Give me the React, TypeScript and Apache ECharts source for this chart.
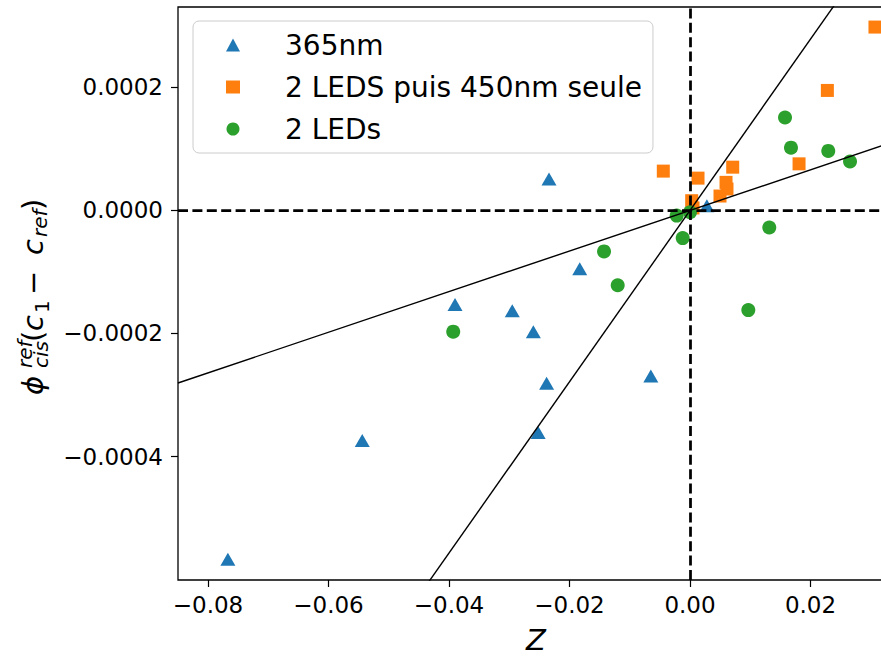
import React, { useEffect, useRef } from "react";
import * as echarts from "echarts";

const FONT = "DejaVu Sans";

// 365nm (triangles)
const tri_x = [-0.0767, -0.0544, -0.039, -0.0295, -0.026, -0.0183, -0.0234, -0.0238, -0.0252, -0.0065, 0.0028];
const tri_y = [-0.000567, -0.000374, -0.000153, -0.000163, -0.000197, -0.0000946, 0.0000509, -0.000281, -0.000361, -0.000269, 0.0000075];

// 2 LEDS puis 450nm seule (squares)
const sq_x = [0.0307, 0.0228, 0.0181, -0.00443, 0.00133, 0.00709, 0.00598, 0.00614, 0.00498, 0.00028, 0.0005];
const sq_y = [0.000298, 0.000195, 0.0000757, 0.0000639, 0.0000525, 0.0000703, 0.0000456, 0.0000348, 0.0000234, 0.0000158, 0.000004];

// 2 LEDs (circles)
const ci_x = [0.01577, 0.01676, 0.02295, 0.02656, 0.01316, 0.00968, -0.00221, -0.00121, 0.0, -0.01427, -0.012, -0.0393];
const ci_y = [0.000151, 0.000102, 0.0000967, 0.0000795, -0.0000278, -0.000162, -0.0000084, -0.000045, -0.000003, -0.0000666, -0.0001216, -0.000197];

const seriesNames = ["365nm", "2 LEDS puis 450nm seule", "2 LEDs"];

// fitted slopes of the two lines through the origin
const slopeSteep = 0.01392;
const slopeShallow = 0.0033;

const xTicks = [-0.08, -0.06, -0.04, -0.02, 0, 0.02];
const yTicks = [-0.0004, -0.0002, 0, 0.0002];
const xMin = -0.08498;
const xMax = 0.03386;
const yMin = -0.0006006;
const yMax = 0.0003306;

const zip = (xs: number[], ys: number[]) => xs.map((x, i) => [x, ys[i]]);
const fmt = (v: number, d: number) => (v < 0 ? "\u2212" : "") + Math.abs(v).toFixed(d);

export default function App() {
  const ref = useRef<HTMLDivElement>(null);
  useEffect(() => {
    if (!ref.current) return;
    const chart = echarts.init(ref.current, null, { renderer: "svg" });
    const main = 29;
    const small = 20;
    const t = (text: string, u: number, v: number, size: number, italic: boolean) => ({
      type: "text",
      x: u,
      y: v,
      style: {
        text,
        fontSize: size,
        fontFamily: FONT,
        fontStyle: italic ? "italic" : "normal",
        fill: "#000",
        align: "left",
        verticalAlign: "middle",
      },
    });
    chart.setOption({
      animation: false,
      backgroundColor: "#fff",
      grid: {
        left: 178,
        top: 7,
        right: 1,
        bottom: 76,
        show: true,
        borderColor: "#000",
        borderWidth: 1.3,
        backgroundColor: "transparent",
      },
      legend: {
        left: 193,
        top: 21,
        orient: "vertical",
        padding: [10, 11, 10, 33],
        itemGap: 14,
        itemWidth: 14,
        itemHeight: 13,
        backgroundColor: "rgba(255,255,255,0.8)",
        borderColor: "#cccccc",
        borderWidth: 1,
        borderRadius: 6,
        selectedMode: false,
        data: seriesNames,
        formatter: "{t|{name}}",
        textStyle: {
          fontFamily: FONT,
          fontSize: 28,
          color: "#000",
          lineHeight: 28,
          rich: {
            t: { fontFamily: FONT, fontSize: 28, color: "#000", lineHeight: 28, padding: [0, 0, 0, 40] },
          },
        },
      },
      xAxis: {
        type: "value",
        min: xMin,
        max: xMax,
        name: "Z",
        nameLocation: "middle",
        nameGap: 45,
        nameTextStyle: { fontFamily: FONT, fontSize: 29, fontStyle: "italic", color: "#000" },
        axisLine: { show: false, onZero: false },
        splitLine: { show: false },
        axisTick: { show: true, length: 7, customValues: xTicks, lineStyle: { color: "#000", width: 1.2 } },
        axisLabel: {
          customValues: xTicks,
          margin: 13,
          fontFamily: FONT,
          fontSize: 23,
          color: "#000",
          formatter: (v: number) => fmt(v, 2),
        },
      },
      yAxis: {
        type: "value",
        min: yMin,
        max: yMax,
        axisLine: { show: false, onZero: false },
        splitLine: { show: false },
        axisTick: { show: true, length: 7, customValues: yTicks, lineStyle: { color: "#000", width: 1.2 } },
        axisLabel: {
          customValues: yTicks,
          margin: 15,
          fontFamily: FONT,
          fontSize: 23,
          color: "#000",
          formatter: (v: number) => fmt(v, 4),
        },
      },
      graphic: [
        {
          type: "group",
          x: 43,
          y: 395,
          rotation: Math.PI / 2,
          children: [
            t("\u03d5", 0, -10, main, true),
            t("ref", 27, -18, small, true),
            t("cis", 27, -2, small, true),
            t("(", 53, -10, main, false),
            t("c", 64, -10, main, true),
            t("1", 82, -1, small, false),
            t("\u2212", 100, -10, main, false),
            t("c", 140, -10, main, true),
            t("ref", 158, -3, small, true),
            t(")", 185, -10, main, false),
          ],
        },
      ],
      series: [
        {
          name: seriesNames[0],
          type: "scatter",
          symbol: "triangle",
          symbolSize: [15, 13],
          itemStyle: { color: "#1f77b4", opacity: 1 },
          data: zip(tri_x, tri_y),
        },
        {
          name: seriesNames[1],
          type: "scatter",
          symbol: "rect",
          symbolSize: 13,
          itemStyle: { color: "#ff7f0e", opacity: 1 },
          data: zip(sq_x, sq_y),
        },
        {
          name: seriesNames[2],
          type: "scatter",
          symbol: "circle",
          symbolSize: 14,
          itemStyle: { color: "#2ca02c", opacity: 1 },
          data: zip(ci_x, ci_y),
        },
        {
          type: "line",
          showSymbol: false,
          symbol: "none",
          clip: true,
          lineStyle: { color: "#000", width: 1.4 },
          data: [xMin, xMax].map((x) => [x, slopeSteep * x]),
          silent: true,
        },
        {
          type: "line",
          showSymbol: false,
          symbol: "none",
          clip: true,
          lineStyle: { color: "#000", width: 1.4 },
          data: [xMin, xMax].map((x) => [x, slopeShallow * x]),
          silent: true,
          markLine: {
            silent: true,
            symbol: "none",
            label: { show: false },
            lineStyle: { color: "#000", width: 2.75, type: [10, 4.4] },
            data: [{ xAxis: 0 }, { yAxis: 0 }],
          },
        },
      ],
    });
    return () => chart.dispose();
  }, []);
  return (
    <div style={{ position: "fixed", left: 0, top: 0, width: 881, height: 659, overflow: "hidden", background: "#fff" }}>
      <div ref={ref} style={{ width: 895, height: 659 }} />
    </div>
  );
}
